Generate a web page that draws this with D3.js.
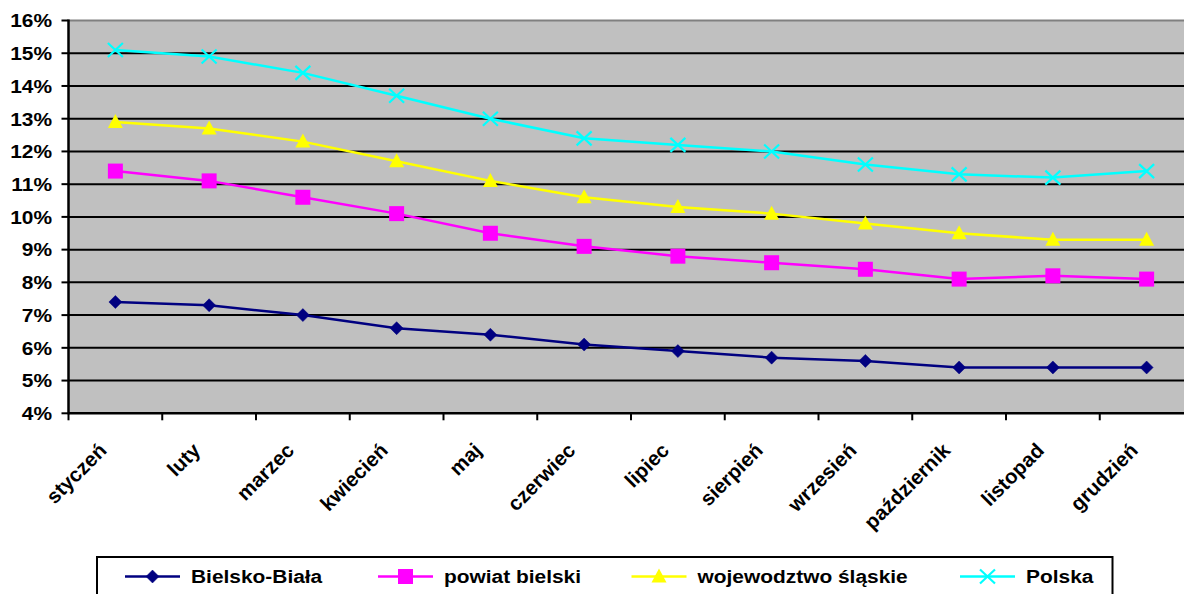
<!DOCTYPE html>
<html>
<head>
<meta charset="utf-8">
<script src="https://cdn.jsdelivr.net/npm/d3@7"></script>
<style>
  html, body { margin: 0; padding: 0; background: #fff; }
  svg { display: block; }
  text { font-family: "Liberation Sans", Arial, sans-serif; font-weight: bold; fill: #000; }
</style>
</head>
<body>
<svg id="chart" width="1184" height="594"></svg>
<script>
const months = ["styczeń","luty","marzec","kwiecień","maj","czerwiec","lipiec","sierpień","wrzesień","październik","listopad","grudzień"];
const seriesNames = ["Bielsko-Biała","powiat bielski","wojewodztwo śląskie","Polska"];
const bielskoBiala = [7.4, 7.3, 7.0, 6.6, 6.4, 6.1, 5.9, 5.7, 5.6, 5.4, 5.4, 5.4];
const powiatBielski = [11.4, 11.1, 10.6, 10.1, 9.5, 9.1, 8.8, 8.6, 8.4, 8.1, 8.2, 8.1];
const wojewodztwo = [12.9, 12.7, 12.3, 11.7, 11.1, 10.6, 10.3, 10.1, 9.8, 9.5, 9.3, 9.3];
const polska = [15.1, 14.9, 14.4, 13.7, 13.0, 12.4, 12.2, 12.0, 11.6, 11.3, 11.2, 11.4];
const yTicks = [4, 5, 6, 7, 8, 9, 10, 11, 12, 13, 14, 15, 16];

const seriesValues = [bielskoBiala, powiatBielski, wojewodztwo, polska];
const colors = ["#000080", "#FF00FF", "#FFFF00", "#00FFFF"];
const markers = ["diamond", "square", "triangle", "cross"];

const svg = d3.select("#chart");
const L = 68.5, R = 1193.5, T = 20.5, B = 413.3;
const SX = 1.1; // horizontal text stretch
const FS = 19;

const x = d3.scaleBand().domain(months).range([L, R]).padding(0);
const xb = d3.scaleLinear().domain([0, months.length]).range([L, R]);
const y = d3.scaleLinear().domain([4, 16]).range([B, T]);

// plot background
svg.append("rect").attr("x", L).attr("y", T).attr("width", R - L).attr("height", B - T)
  .attr("fill", "#C0C0C0");
// top border grey
svg.append("line").attr("x1", L).attr("x2", R).attr("y1", T).attr("y2", T)
  .attr("stroke", "#808080").attr("stroke-width", 2);

// gridlines
svg.append("g").selectAll("line").data(yTicks.filter(t => t > 4 && t < 16)).join("line")
  .attr("x1", L).attr("x2", R).attr("y1", d => y(d)).attr("y2", d => y(d))
  .attr("stroke", "#000").attr("stroke-width", 2);

// y axis
svg.append("line").attr("x1", L).attr("x2", L).attr("y1", T - 1).attr("y2", B + 1)
  .attr("stroke", "#000").attr("stroke-width", 2.5);
svg.append("g").selectAll("line").data(yTicks).join("line")
  .attr("x1", L - 7).attr("x2", L).attr("y1", d => y(d)).attr("y2", d => y(d))
  .attr("stroke", "#000").attr("stroke-width", 2);
svg.append("g").selectAll("text").data(yTicks).join("text")
  .attr("transform", d => `translate(52,${y(d)}) scale(${SX},1)`)
  .attr("dy", "0.36em").attr("text-anchor", "end").attr("font-size", FS)
  .text(d => d + "%");

// x axis
svg.append("line").attr("x1", L).attr("x2", R).attr("y1", B).attr("y2", B)
  .attr("stroke", "#000").attr("stroke-width", 2.5);
svg.append("g").selectAll("line").data(d3.range(months.length + 1)).join("line")
  .attr("x1", d => xb(d)).attr("x2", d => xb(d)).attr("y1", B).attr("y2", B + 7)
  .attr("stroke", "#000").attr("stroke-width", 2);
svg.append("g").selectAll("text").data(months).join("text")
  .attr("transform", d => `translate(${x(d) + x.bandwidth() / 2 - 18},${B + 28}) rotate(-45)`)
  .attr("dy", "0.72em").attr("text-anchor", "end").attr("font-size", 20.5)
  .text(d => d);

// marker drawing
function drawMarker(g, type, color, cx, cy) {
  if (type === "diamond") {
    g.append("path").attr("d", `M${cx},${cy - 6.5}L${cx + 6.5},${cy}L${cx},${cy + 6.5}L${cx - 6.5},${cy}Z`)
      .attr("fill", color).attr("stroke", color).attr("stroke-width", 0.5);
  } else if (type === "square") {
    g.append("rect").attr("x", cx - 7.5).attr("y", cy - 7.5).attr("width", 15).attr("height", 15)
      .attr("fill", color);
  } else if (type === "triangle") {
    g.append("path").attr("d", `M${cx},${cy - 8}L${cx + 7.5},${cy + 6}L${cx - 7.5},${cy + 6}Z`)
      .attr("fill", color);
  } else if (type === "cross") {
    g.append("path").attr("d", `M${cx - 7.5},${cy - 7}L${cx + 7.5},${cy + 7}M${cx - 7.5},${cy + 7}L${cx + 7.5},${cy - 7}`)
      .attr("stroke", color).attr("stroke-width", 2.2).attr("fill", "none");
  }
}

const line = d3.line().x((d, i) => x(months[i]) + x.bandwidth() / 2).y(d => y(d));

seriesValues.forEach((vals, si) => {
  const g = svg.append("g");
  g.append("path").datum(vals).attr("d", line).attr("fill", "none")
    .attr("stroke", colors[si]).attr("stroke-width", 2.5);
  vals.forEach((v, i) => drawMarker(g, markers[si], colors[si], x(months[i]) + x.bandwidth() / 2, y(v)));
});

// legend
const legY = 576.5;
svg.append("rect").attr("x", 97).attr("y", 557).attr("width", 1015.5).attr("height", 60)
  .attr("fill", "#fff").attr("stroke", "#000").attr("stroke-width", 2);
const legLineX = [125, 378, 631.5, 960];
const legG = svg.append("g");
seriesNames.forEach((name, si) => {
  const x0 = legLineX[si];
  legG.append("line").attr("x1", x0).attr("x2", x0 + 55).attr("y1", legY).attr("y2", legY)
    .attr("stroke", colors[si]).attr("stroke-width", 2.5);
  drawMarker(legG, markers[si], colors[si], x0 + 27.5, legY);
  legG.append("text").attr("transform", `translate(${x0 + 66},${legY}) scale(${SX},1)`)
    .attr("dy", "0.36em").attr("font-size", FS).text(name);
});
</script>
</body>
</html>
